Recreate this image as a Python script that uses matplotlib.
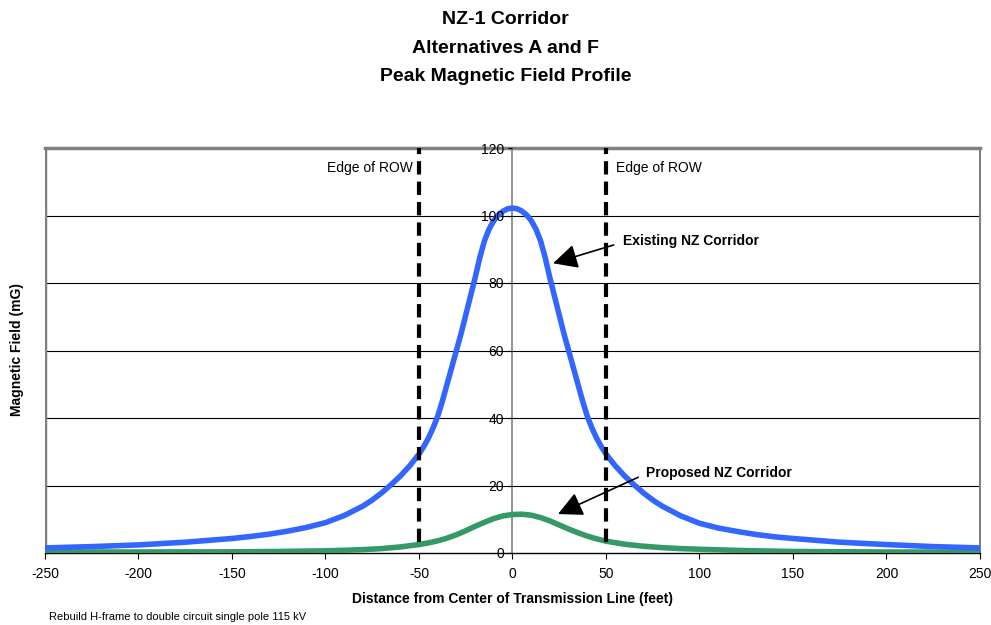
import matplotlib.pyplot as plt

plt.rcParams["font.family"] = ["Liberation Sans", "DejaVu Sans"]

# distance from centre (feet) and peak magnetic field (mG)
dist_existing = [-250, -225, -200, -175, -150, -140, -130, -120, -110, -100, -90, -80, -75,
                 -70, -65, -60, -55, -50, -47.5, -45, -42.5, -40, -37.5, -35, -32.5, -30,
                 -27.5, -25, -22.5, -20, -17.5, -15, -12.5, -10, -7.5, -5, -2.5, 0, 2.5, 5,
                 7.5, 10, 12.5, 15, 17.5, 20, 22.5, 25, 27.5, 30, 32.5, 35, 37.5, 40, 42.5,
                 45, 47.5, 50, 55, 60, 65, 70, 75, 80, 90, 100, 110, 120, 130, 140, 150, 175,
                 200, 225, 250]
field_existing = [1.5, 1.9, 2.4, 3.2, 4.3, 4.9, 5.6, 6.5, 7.6, 9.0, 11.1, 13.9, 15.7, 17.8,
                  20.2, 22.8, 25.8, 29.3, 31.5, 34.0, 37.0, 40.5, 45.0, 50.0, 55.0, 60.0,
                  65.0, 70.5, 76.0, 81.5, 87.5, 92.5, 96.0, 98.5, 100.2, 101.3, 102.0, 102.2,
                  102.0, 101.3, 100.2, 98.5, 96.0, 92.5, 87.5, 81.5, 76.0, 70.5, 65.0, 60.0,
                  55.0, 50.0, 45.0, 40.5, 37.0, 34.0, 31.5, 29.3, 25.8, 22.8, 20.2, 17.8,
                  15.7, 13.9, 11.0, 8.8, 7.4, 6.4, 5.5, 4.8, 4.3, 3.2, 2.5, 1.9, 1.5]

dist_proposed = [-250, -200, -150, -125, -100, -90, -80, -70, -60, -50, -45, -40, -35, -30,
                 -25, -20, -15, -10, -5, 0, 5, 10, 15, 20, 25, 30, 35, 40, 45, 50, 60, 70, 80,
                 90, 100, 125, 150, 200, 250]
field_proposed = [0.3, 0.3, 0.35, 0.45, 0.65, 0.8, 1.0, 1.3, 1.8, 2.5, 3.0, 3.6, 4.4, 5.4,
                  6.6, 7.9, 9.1, 10.2, 11.0, 11.4, 11.5, 11.2, 10.5, 9.5, 8.3, 7.1, 6.0, 5.0,
                  4.2, 3.5, 2.6, 2.0, 1.6, 1.3, 1.1, 0.7, 0.45, 0.3, 0.25]

row_edges = [-50, 50]
x_ticks = [-250, -200, -150, -100, -50, 0, 50, 100, 150, 200, 250]
y_ticks = [0, 20, 40, 60, 80, 100, 120]

fig = plt.figure(figsize=(9.91, 6.25), dpi=100)
ax = fig.add_axes([0.0454, 0.1152, 0.9435, 0.648])

# horizontal gridlines
for yv in y_ticks[1:-1]:
    ax.axhline(yv, color="black", lw=0.8, zorder=1)

ax.plot(dist_existing, field_existing, color="#3366FF", lw=4, zorder=4,
        solid_joinstyle="round", solid_capstyle="butt")
ax.plot(dist_proposed, field_proposed, color="#339966", lw=4, zorder=3,
        solid_joinstyle="round", solid_capstyle="butt")

# edge of right-of-way lines
for xe in row_edges:
    ax.plot([xe, xe], [3.3, 120], color="black", lw=3, ls=(0, (3.2, 1.7)), zorder=5)
ax.text(-53.5, 114.1, "Edge of ROW", ha="right", va="center", fontsize=10)
ax.text(55.3, 114.1, "Edge of ROW", ha="left", va="center", fontsize=10)

arrow_style = "-|>,head_length=1.5,head_width=0.75"
ax.annotate("", xy=(20.3, 85.6), xytext=(55.5, 91.5),
            arrowprops=dict(arrowstyle=arrow_style, color="black", lw=1.2), zorder=6)
ax.text(59, 92.4, "Existing NZ Corridor", fontsize=10, fontweight="bold",
        ha="left", va="center")
ax.annotate("", xy=(23, 11.2), xytext=(68.6, 22.8),
            arrowprops=dict(arrowstyle=arrow_style, color="black", lw=1.2), zorder=6)
ax.text(71.3, 23.8, "Proposed NZ Corridor", fontsize=10, fontweight="bold",
        ha="left", va="center")

ax.set_xlim(-250, 250)
ax.set_ylim(0, 120)

# y axis drawn through x = 0
ax.spines["left"].set_position(("data", 0))
ax.spines["left"].set_color("#808080")
ax.spines["left"].set_linewidth(1.2)
ax.spines["right"].set_color("#808080")
ax.spines["right"].set_linewidth(1.5)
ax.spines["top"].set_color("#808080")
ax.spines["top"].set_linewidth(2.5)
ax.spines["bottom"].set_color("black")
ax.spines["bottom"].set_linewidth(1.0)
ax.axvline(-250, color="#808080", lw=2.5, zorder=2)

ax.set_xticks(x_ticks)
ax.set_xticklabels([str(v) for v in x_ticks])
ax.set_yticks(y_ticks)
ax.set_yticklabels([str(v) for v in y_ticks])
ax.tick_params(axis="y", direction="out", length=3, width=0.8, color="black",
               labelsize=10, pad=3)
ax.tick_params(axis="x", direction="out", length=4, width=0.8, color="black",
               labelsize=10, pad=6)
ax.yaxis.set_zorder(4.5)

fig.text(0.0167, 0.4416, "Magnetic Field (mG)", rotation=90, ha="center", va="center",
         fontsize=10, fontweight="bold")
fig.text(0.517, 0.0416, "Distance from Center of Transmission Line (feet)", ha="center",
         va="center", fontsize=10, fontweight="bold")
fig.text(0.049, 0.012, "Rebuild H-frame to double circuit single pole 115 kV",
         ha="left", va="center", fontsize=8)

fig.text(0.51, 0.968, "NZ-1 Corridor", ha="center", va="center", fontsize=14,
         fontweight="bold")
fig.text(0.51, 0.923, "Alternatives A and F", ha="center", va="center", fontsize=14,
         fontweight="bold")
fig.text(0.51, 0.878, "Peak Magnetic Field Profile", ha="center", va="center",
         fontsize=14, fontweight="bold")

fig.savefig("out.png", dpi=100)
